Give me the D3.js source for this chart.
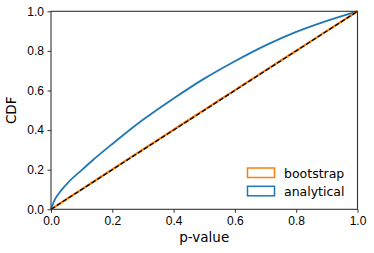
<!DOCTYPE html>
<html lang="en">
<head>
  <meta charset="UTF-8" />
  <title>CDF of p-values</title>
  <script src="https://d3js.org/d3.v7.min.js"></script>
  <style>
    html, body {
      margin: 0;
      padding: 0;
      background: #fff;
    }
    svg {
      display: block;
      font-family: "DejaVu Sans", sans-serif;
    }
    .axis text {
      font-size: 12px;
      fill: #000;
    }
    .axis line {
      stroke: #333;
      stroke-width: 1;
    }
  </style>
</head>
<body>
  <svg id="chart" width="374" height="253"></svg>

  <script>
    // p-value grid and CDF values
    const pAnalytical = [0, 0.012, 0.034, 0.055, 0.1, 0.137, 0.2, 0.3, 0.4, 0.5, 0.6, 0.7, 0.8, 0.9, 1.0];
    const cdfAnalytical = [0, 0.047, 0.097, 0.134, 0.198, 0.249, 0.330, 0.452, 0.560, 0.660, 0.748, 0.828, 0.896, 0.952, 1.0];

    const pBootstrap = [0, 0.1, 0.2, 0.3, 0.4, 0.5, 0.6, 0.7, 0.8, 0.9, 1.0];
    const cdfBootstrap = [0, 0.101, 0.202, 0.302, 0.402, 0.502, 0.602, 0.702, 0.801, 0.901, 1.0];

    const diagonal = [0, 1];

    const xTicks = [0, 0.2, 0.4, 0.6, 0.8, 1.0];
    const yTicks = [0, 0.2, 0.4, 0.6, 0.8, 1.0];

    const legendLabels = ["bootstrap", "analytical"];
    const colors = { bootstrap: "#ff7f0e", analytical: "#1f77b4" };

    const svg = d3.select("#chart");
    const width = +svg.attr("width");
    const height = +svg.attr("height");
    const margin = { top: 11.3, right: 16.5, bottom: 43.7, left: 51 };
    const innerW = width - margin.left - margin.right;
    const innerH = height - margin.top - margin.bottom;

    const x = d3.scaleLinear().domain([0, 1]).range([0, innerW]);
    const y = d3.scaleLinear().domain([0, 1]).range([innerH, 0]);

    const g = svg.append("g")
      .attr("transform", `translate(${margin.left},${margin.top})`);

    const line = d3.line()
      .x(d => x(d[0]))
      .y(d => y(d[1]))
      .curve(d3.curveMonotoneX);

    // analytical curve
    g.append("path")
      .datum(d3.zip(pAnalytical, cdfAnalytical))
      .attr("fill", "none")
      .attr("stroke", colors.analytical)
      .attr("stroke-width", 1.8)
      .attr("d", line);

    // bootstrap curve
    g.append("path")
      .datum(d3.zip(pBootstrap, cdfBootstrap))
      .attr("fill", "none")
      .attr("stroke", colors.bootstrap)
      .attr("stroke-width", 2.2)
      .attr("d", line);

    // y = x reference
    g.append("path")
      .datum(d3.zip(diagonal, diagonal))
      .attr("fill", "none")
      .attr("stroke", "#000")
      .attr("stroke-width", 1.3)
      .attr("stroke-dasharray", "4.8,2.1")
      .attr("d", d3.line().x(d => x(d[0])).y(d => y(d[1])));

    // axes
    const xAxis = g.append("g")
      .attr("class", "axis")
      .attr("transform", `translate(0,${innerH})`)
      .call(d3.axisBottom(x).tickValues(xTicks).tickFormat(d3.format(".1f")).tickSize(3.5).tickPadding(4));
    xAxis.select(".domain").remove();

    const yAxis = g.append("g")
      .attr("class", "axis")
      .call(d3.axisLeft(y).tickValues(yTicks).tickFormat(d3.format(".1f")).tickSize(3.5).tickPadding(3.5));
    yAxis.select(".domain").remove();

    // frame
    g.append("rect")
      .attr("width", innerW)
      .attr("height", innerH)
      .attr("fill", "none")
      .attr("stroke", "#333")
      .attr("stroke-width", 1.1);

    // axis labels
    svg.append("text")
      .attr("x", margin.left + innerW / 2)
      .attr("y", 242)
      .attr("text-anchor", "middle")
      .attr("font-size", "13.5px")
      .attr("fill", "#000")
      .text("p-value");

    svg.append("text")
      .attr("transform", `translate(16,${margin.top + innerH / 2}) rotate(-90)`)
      .attr("text-anchor", "middle")
      .attr("font-size", "13.5px")
      .attr("fill", "#000")
      .text("CDF");

    // legend
    const legend = svg.append("g")
      .attr("transform", "translate(247,168)");
    legendLabels.forEach((name, i) => {
      const row = legend.append("g").attr("transform", `translate(0,${i * 18.3})`);
      row.append("rect")
        .attr("x", 0.5)
        .attr("y", 0)
        .attr("width", 27)
        .attr("height", 9.5)
        .attr("fill", "none")
        .attr("stroke", colors[name])
        .attr("stroke-width", 1.5);
      row.append("text")
        .attr("x", 37)
        .attr("y", 9.5)
        .attr("font-size", "12.5px")
        .attr("fill", "#000")
        .text(name);
    });
  </script>
</body>
</html>
